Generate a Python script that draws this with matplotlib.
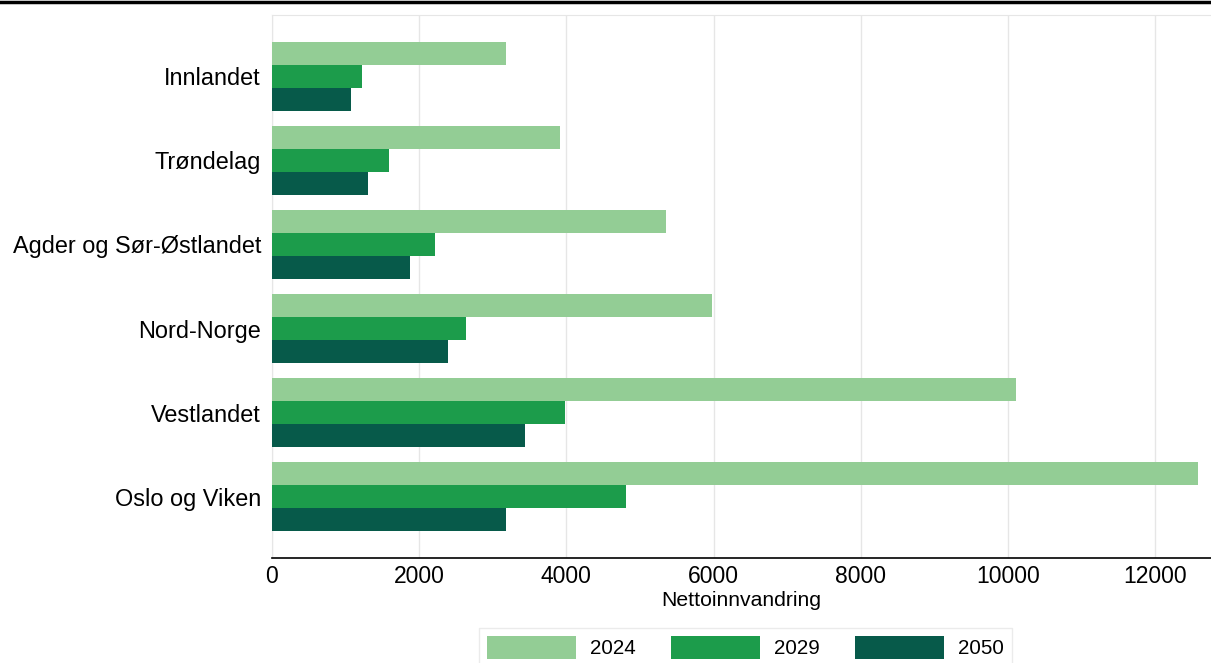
import matplotlib
matplotlib.use("Agg")
import numpy as np
from matplotlib import pyplot as plt
from matplotlib.lines import Line2D

plt.rcParams['font.family'] = ['Liberation Sans', 'DejaVu Sans']

regions = ["Innlandet", "Trøndelag", "Agder og Sør-Østlandet", "Nord-Norge", "Vestlandet", "Oslo og Viken"]
years = ["2024", "2029", "2050"]
v2024 = [3180, 3910, 5350, 5980, 10110, 12580]
v2029 = [1220, 1590, 2210, 2640, 3980, 4810]
v2050 = [1070, 1300, 1870, 2390, 3440, 3180]
colors = ["#93cd95", "#1c9c4b", "#075a4a"]

fig = plt.figure(figsize=(12.11, 6.63), dpi=100)
ax = fig.add_axes([272/1211, 1 - 558/663, 1 - 272/1211, (558 - 15)/663])

y = np.arange(len(regions))
h = 0.274
for i, (vals, lab) in enumerate(zip([v2024, v2029, v2050], years)):
    ax.barh(y + (i - 1) * h, vals, height=h, color=colors[i], label=lab, zorder=3)

ax.set_ylim(len(regions) - 1 + 0.732, -0.732)
ax.set_xlim(0, 12760)
ax.set_yticks(y)
ax.set_yticklabels(regions, fontsize=16.9)
ax.set_xticks(np.arange(0, 12001, 2000))
ax.tick_params(axis='x', labelsize=16.5, length=0, pad=5)
ax.tick_params(axis='y', length=0, pad=8)
ax.grid(axis='x', color="#e6e6e6", linewidth=1, zorder=0)
for s in ['top', 'left', 'right']:
    ax.spines[s].set_color("#e6e6e6")
ax.spines['right'].set_visible(False)
ax.spines['bottom'].set_color("black")
ax.spines['bottom'].set_linewidth(1.2)
ax.set_xlabel("Nettoinnvandring", fontsize=15.2, labelpad=2)

# top black rule
fig.add_artist(Line2D([0, 1], [1 - 2/663, 1 - 2/663], color="black", linewidth=2.5, transform=fig.transFigure))

leg = fig.legend(loc='upper center', bbox_to_anchor=(745.5/1211, 1 - 628/663), ncol=3,
                 fontsize=14.8, handlelength=4.3, handleheight=1.3, handletextpad=0.68,
                 columnspacing=1.75, fancybox=False, frameon=True, borderpad=0.4,
                 borderaxespad=0)
leg.get_frame().set_edgecolor("#e6e6e6")
leg.get_frame().set_linewidth(1)

fig.savefig("out.png", dpi=100)
